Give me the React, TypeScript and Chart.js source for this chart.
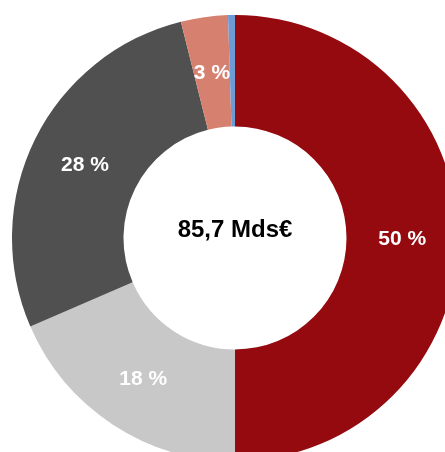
import React, { useEffect, useRef } from "react";
import { Chart, registerables } from "chart.js";

Chart.register(...registerables);

const categories = ["Rouge", "Gris clair", "Gris foncé", "Saumon", "Bleu"];
const values = [50.0, 18.5, 27.6, 3.4, 0.5];
const labels = ["50 %", "18 %", "28 %", "3 %", ""];
const colors = ["#940A0F", "#C8C8C8", "#505050", "#D6806F", "#6E9BD6"];
const centerText = "85,7 Mds€";

const labelPlugin = {
  id: "sliceLabels",
  afterDatasetsDraw(chart: any) {
    const ctx = chart.ctx;
    const meta = chart.getDatasetMeta(0);
    ctx.save();
    ctx.fillStyle = "#FFFFFF";
    ctx.font = "bold 21px 'Liberation Sans', Arial, sans-serif";
    ctx.textAlign = "center";
    ctx.textBaseline = "middle";
    meta.data.forEach((arc: any, i: number) => {
      const t = labels[i];
      if (!t) return;
      const p = arc.tooltipPosition();
      ctx.fillText(t, p.x, p.y + 1);
    });
    const first = meta.data[0];
    if (first) {
      ctx.fillStyle = "#000000";
      ctx.font = "bold 24px 'Liberation Sans', Arial, sans-serif";
      ctx.fillText(centerText, first.x, first.y - 8);
    }
    ctx.restore();
  },
};

export default function App() {
  const ref = useRef<HTMLCanvasElement>(null);
  useEffect(() => {
    if (!ref.current) return;
    const chart = new Chart(ref.current, {
      type: "doughnut",
      data: {
        labels: categories,
        datasets: [
          {
            data: values,
            backgroundColor: colors,
            borderWidth: 0,
            hoverOffset: 0,
            offset: 0,
          },
        ],
      },
      options: {
        animation: false,
        responsive: true,
        maintainAspectRatio: false,
        cutout: "50%",
        layout: { padding: 0 },
        plugins: {
          legend: { display: false },
          tooltip: { enabled: false },
        },
        events: [],
      },
      plugins: [labelPlugin],
    });
    return () => chart.destroy();
  }, []);
  return (
    <div style={{ position: "fixed", left: 0, top: 0, width: "100vw", height: "100vh", overflow: "hidden", background: "#fff" }}>
      <div style={{ position: "absolute", left: 12, top: 15, width: 446, height: 446 }}>
        <canvas ref={ref} />
      </div>
    </div>
  );
}
